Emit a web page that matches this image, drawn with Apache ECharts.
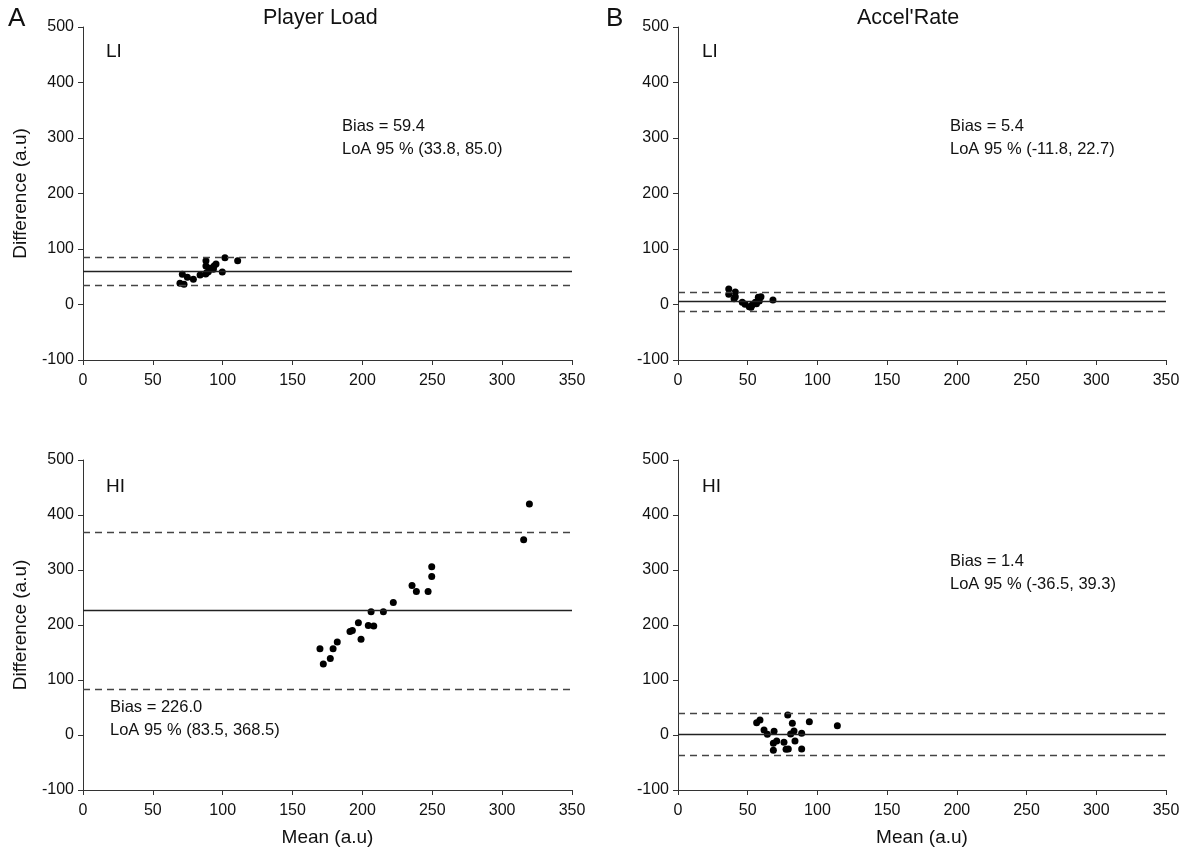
<!DOCTYPE html>
<html>
<head>
<meta charset="utf-8">
<script src="https://cdn.jsdelivr.net/npm/echarts@6/dist/echarts.min.js"></script>
<style>
  html, body { margin: 0; padding: 0; background: #fff; }
  #chart { width: 1189px; height: 853px; }
</style>
</head>
<body>
<div id="chart"></div>
<script>
// axis ticks
const xMin = 0, xMax = 350, xStep = 50
const yMin = -100, yMax = 500, yStep = 100

// Player Load, low intensity: [mean, difference]
const plLI = [
  [101.6, 84.3], [110.7, 79], [88, 79], [95.2, 73], [93.8, 69.4], [88, 69.4],
  [93.3, 63.4], [89.7, 59], [87.8, 55], [99.7, 58.6], [83.8, 53.2], [71.1, 54.4],
  [74.7, 49], [79, 45.4], [69.4, 38.2], [72.3, 36.4], [90.9, 65.2], [88.5, 57]
]
const plLIStats = { bias: 59.4, lo: 33.8, hi: 85.0 }

// Accel'Rate, low intensity
const arLI = [
  [36.4, 27.9], [41.1, 22.5], [36.4, 18.4], [41.1, 14], [40.2, 10.5], [46.1, 3.9],
  [48.1, 0.4], [51.1, -3.9], [53.3, -0.3], [55.5, 3.9], [57.6, 13], [59.5, 14],
  [58.3, 6.3], [52.4, -5], [68.1, 8.1], [56.3, 1.5]
]
const arLIStats = { bias: 5.4, lo: -11.8, hi: 22.7 }

// Player Load, high intensity
const plHI = [
  [319.5, 420], [315.4, 355], [249.6, 306], [249.6, 288], [235.5, 272], [238.6, 261],
  [247, 261], [222.1, 241], [215, 224], [206.2, 224], [204.2, 199], [208.1, 198],
  [197.1, 204], [192.8, 190], [191.1, 188], [199, 174], [182, 169], [179, 157],
  [169.6, 157], [177, 139], [172, 129]
]
const plHIStats = { bias: 226.0, lo: 83.5, hi: 368.5 }

// Accel'Rate, high intensity
const arHI = [
  [56.4, 22.4], [58.8, 27.3], [78.7, 36.4], [82, 21.2], [94.2, 24.2], [114.3, 17],
  [61.7, 9.1], [64.1, 1.2], [68.9, 6.7], [83.2, 7.3], [80.8, 1.8], [88.7, 3],
  [70.8, -10.9], [68.4, -15.2], [76, -13.3], [83.9, -10.9], [68.4, -27.9],
  [77.5, -26], [79.1, -25.5], [88.7, -25.5]
]
const arHIStats = { bias: 1.4, lo: -36.5, hi: 39.3 }

const panels = [
  { data: plLI, stats: plLIStats, grid: { left: 83, top: 27, width: 489, height: 333 } },
  { data: arLI, stats: arLIStats, grid: { left: 678, top: 27, width: 488, height: 333 } },
  { data: plHI, stats: plHIStats, grid: { left: 83, top: 460, width: 489, height: 330 } },
  { data: arHI, stats: arHIStats, grid: { left: 678, top: 460, width: 488, height: 330 } }
]

const font = 'Liberation Sans, Arial, sans-serif'
const axisColor = '#333'

const chart = echarts.init(document.getElementById('chart'))

const xAxes = panels.map((p, i) => ({
  gridIndex: i,
  type: 'value',
  min: xMin,
  max: xMax,
  interval: xStep,
  axisLine: { onZero: false, lineStyle: { color: axisColor, width: 1 } },
  axisTick: { length: 5, lineStyle: { color: axisColor } },
  axisLabel: { fontFamily: font, fontSize: 16, color: '#111', margin: 13 },
  splitLine: { show: false },
  name: i >= 2 ? 'Mean (a.u)' : '',
  nameLocation: 'middle',
  nameGap: 38,
  nameTextStyle: { fontFamily: font, fontSize: 19, color: '#111' }
}))

const yAxes = panels.map((p, i) => ({
  gridIndex: i,
  type: 'value',
  min: yMin,
  max: yMax,
  interval: yStep,
  axisLine: { show: true, onZero: false, lineStyle: { color: axisColor, width: 1 } },
  axisTick: { show: true, length: 5, lineStyle: { color: axisColor } },
  axisLabel: { fontFamily: font, fontSize: 16, color: '#111', margin: 9 },
  splitLine: { show: false },
  name: i % 2 === 0 ? 'Difference (a.u)' : '',
  nameLocation: 'middle',
  nameRotate: 90,
  nameGap: 53,
  nameTextStyle: { fontFamily: font, fontSize: 19, color: '#111' }
}))

const series = panels.map((p, i) => ({
  type: 'scatter',
  xAxisIndex: i,
  yAxisIndex: i,
  data: p.data,
  symbol: 'circle',
  symbolSize: 7,
  itemStyle: { color: '#000', opacity: 1 },
  silent: true,
  markLine: {
    silent: true,
    symbol: 'none',
    label: { show: false },
    animation: false,
    data: [
      { yAxis: p.stats.bias, lineStyle: { type: 'solid', color: '#222', width: 1.3 } },
      { yAxis: p.stats.lo, lineStyle: { type: [7, 5], color: '#444', width: 1.3 } },
      { yAxis: p.stats.hi, lineStyle: { type: [7, 5], color: '#444', width: 1.3 } }
    ]
  }
}))

const txt = (x, y, text, size, extra) => ({
  type: 'text',
  left: x,
  top: y,
  style: Object.assign({ text: text, fontFamily: font, fontSize: size, fill: '#111' }, extra || {})
})

const statLines = s => ['Bias = ' + s.bias.toFixed(1), 'LoA 95 % (' + s.lo.toFixed(1) + ', ' + s.hi.toFixed(1) + ')']

const graphic = [
  txt(8, 6, 'A', 26),
  txt(606, 6, 'B', 26),
  txt(263, 7, 'Player Load', 21.5),
  txt(857, 7, "Accel'Rate", 21.5),
  txt(106, 42, 'LI', 19),
  txt(702, 42, 'LI', 19),
  txt(106, 477, 'HI', 19),
  txt(702, 477, 'HI', 19),
  txt(342, 115, statLines(plLIStats).join('\n'), 16.5, { lineHeight: 23 }),
  txt(950, 115, statLines(arLIStats).join('\n'), 16.5, { lineHeight: 23 }),
  txt(110, 696, statLines(plHIStats).join('\n'), 16.5, { lineHeight: 23 }),
  txt(950, 550, statLines(arHIStats).join('\n'), 16.5, { lineHeight: 23 })
]

chart.setOption({
  animation: false,
  backgroundColor: '#fff',
  grid: panels.map(p => Object.assign({ containLabel: false }, p.grid)),
  xAxis: xAxes,
  yAxis: yAxes,
  series: series,
  graphic: graphic
})
</script>
</body>
</html>
